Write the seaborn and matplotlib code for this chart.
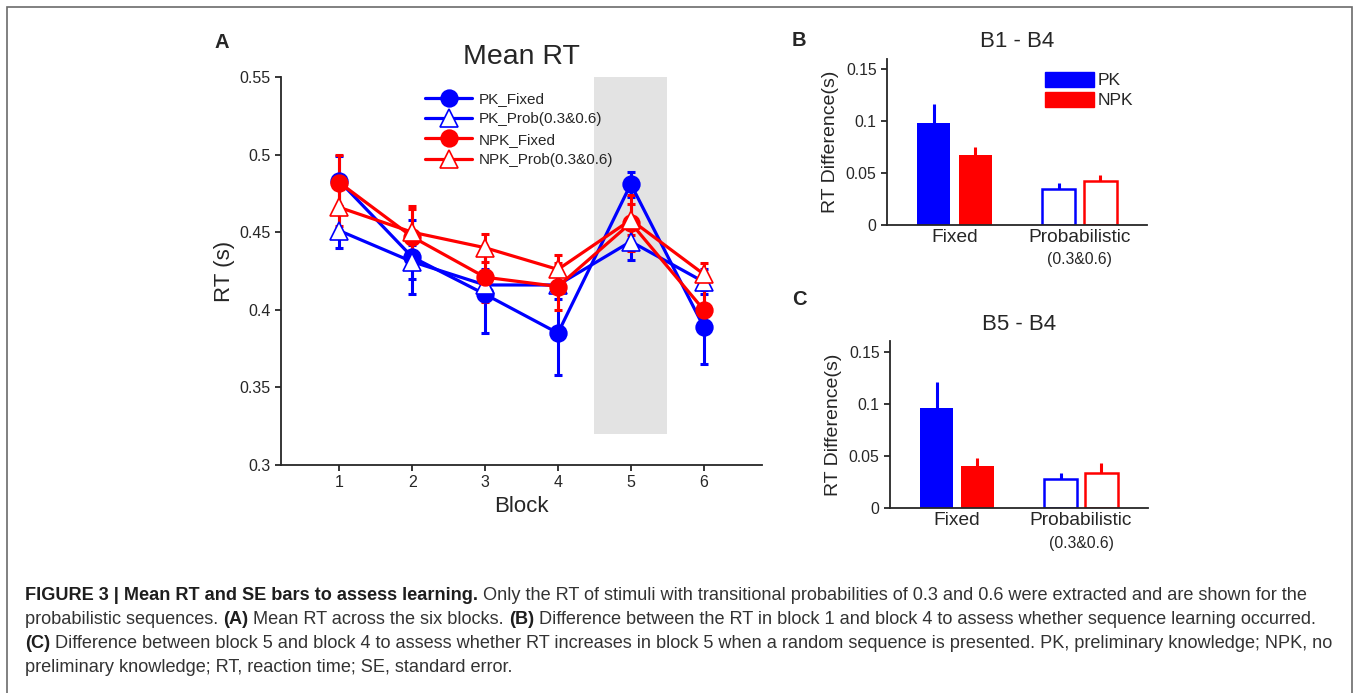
import numpy as np
import pandas as pd
import seaborn as sns
import matplotlib.pyplot as plt
from matplotlib.patches import Patch, Rectangle
from matplotlib.lines import Line2D
import matplotlib.transforms as mtrans

# Panel A: mean RT per block
blocks = [1, 2, 3, 4, 5, 6]
pk_fixed = [0.483, 0.434, 0.410, 0.385, 0.481, 0.389]
pk_fixed_se = [0.016, 0.024, 0.025, 0.027, 0.008, 0.024]
pk_prob = [0.451, 0.431, 0.416, 0.416, 0.444, 0.418]
pk_prob_se = [0.011, 0.011, 0.010, 0.009, 0.012, 0.008]
npk_fixed = [0.482, 0.447, 0.421, 0.415, 0.456, 0.400]
npk_fixed_se = [0.018, 0.018, 0.016, 0.015, 0.018, 0.015]
npk_prob = [0.466, 0.450, 0.440, 0.426, 0.458, 0.423]
npk_prob_se = [0.012, 0.017, 0.009, 0.009, 0.010, 0.007]

# Panels B and C: RT differences
conditions = ["Fixed", "Probabilistic"]
groups = ["PK", "NPK"]
b1_b4 = {"PK": [0.098, 0.035], "NPK": [0.067, 0.042]}
b1_b4_se = {"PK": [0.018, 0.005], "NPK": [0.008, 0.006]}
b5_b4 = {"PK": [0.096, 0.028], "NPK": [0.041, 0.034]}
b5_b4_se = {"PK": [0.025, 0.006], "NPK": [0.007, 0.009]}

BLUE = "#0000ff"
RED = "#ff0000"

sns.set_style("ticks")
plt.rcParams["font.family"] = ["Liberation Sans", "DejaVu Sans"]
plt.rcParams["axes.linewidth"] = 1.3
plt.rcParams["xtick.major.width"] = 1.3
plt.rcParams["ytick.major.width"] = 1.3
plt.rcParams["xtick.major.size"] = 4
plt.rcParams["ytick.major.size"] = 4

W, H = 1356, 693
fig = plt.figure(figsize=(W / 100, H / 100), dpi=100)


def px_axes(left, right, top, bottom):
    return fig.add_axes([left / W, 1 - bottom / H, (right - left) / W, (bottom - top) / H])


# ---------------- Panel A ----------------
axA = px_axes(281, 762, 77, 465)
# grey band marking the random block
axA.add_patch(Rectangle((4.5, 0.32), 1, 0.23, facecolor="#e3e3e3", lw=0, zorder=0))

series = [
    ("PK_Fixed", pk_fixed, pk_fixed_se, BLUE, "o", BLUE),
    ("PK_Prob(0.3&0.6)", pk_prob, pk_prob_se, BLUE, "^", "white"),
    ("NPK_Fixed", npk_fixed, npk_fixed_se, RED, "o", RED),
    ("NPK_Prob(0.3&0.6)", npk_prob, npk_prob_se, RED, "^", "white"),
]
handles = []
for name, vals, se, col, mk, face in series:
    ms = 12 if mk == "o" else 13
    axA.errorbar(blocks, vals, yerr=se, fmt="none", ecolor=col, elinewidth=2.2,
                 capsize=3, capthick=2.2, zorder=2)
    sns.lineplot(x=blocks, y=vals, ax=axA, color=col, linewidth=2.3, marker=mk,
                 markersize=ms, markerfacecolor=face, markeredgecolor=col,
                 markeredgewidth=1.2, zorder=3)
    handles.append(Line2D([], [], color=col, lw=2.3, marker=mk, markersize=ms,
                          markerfacecolor=face, markeredgecolor=col, markeredgewidth=1.2))

axA.set_xlim(0.2, 6.8)
axA.set_ylim(0.3, 0.55)
axA.set_xticks(blocks)
axA.set_yticks([0.3, 0.35, 0.4, 0.45, 0.5, 0.55])
axA.set_yticklabels(["0.3", "0.35", "0.4", "0.45", "0.5", "0.55"])
axA.tick_params(labelsize=11.5)
axA.set_xlabel("Block", fontsize=16, labelpad=4)
axA.set_ylabel("RT (s)", fontsize=16, labelpad=3)
axA.set_title("Mean RT", fontsize=20.5, pad=9)
sns.despine(ax=axA)
axA.legend(handles, [s[0] for s in series], loc="upper left",
           bbox_to_anchor=(425 / W, 1 - 92 / H), bbox_transform=fig.transFigure,
           frameon=False, fontsize=11, handlelength=3.1, handletextpad=0.4,
           labelspacing=0.42, borderpad=0, borderaxespad=0)


# ---------------- Panels B and C ----------------
def bar_panel(ax, means, ses, title):
    df = pd.DataFrame({
        "condition": conditions * 2,
        "group": [g for g in groups for _ in conditions],
        "value": means["PK"] + means["NPK"],
        "se": ses["PK"] + ses["NPK"],
    })
    sns.barplot(data=df, x="condition", y="value", hue="group", order=conditions,
                hue_order=groups, palette={"PK": BLUE, "NPK": RED}, width=0.66,
                gap=0.2, errorbar=None, legend=False, saturation=1, ax=ax)
    for p in ax.patches:
        h = p.get_height()
        row = df.iloc[int(np.argmin(np.abs(df["value"] - h)))]
        col = BLUE if row["group"] == "PK" else RED
        xc = p.get_x() + p.get_width() / 2
        if row["condition"] == "Probabilistic":
            # probabilistic bars are drawn hollow
            p.set_facecolor("white")
            p.set_edgecolor(col)
            p.set_linewidth(1.8)
        else:
            p.set_linewidth(0)
        ax.vlines(xc, h, h + row["se"], color=col, lw=2.2, zorder=1)
    ax.set_xlim(-0.54, 1.54)
    ax.set_ylim(0, 0.16)
    ax.set_yticks([0, 0.05, 0.1, 0.15])
    ax.set_yticklabels(["0", "0.05", "0.1", "0.15"])
    ax.tick_params(axis="y", labelsize=11.3)
    ax.tick_params(axis="x", length=0, labelsize=13.8, pad=3)
    ax.set_xlabel("")
    ax.set_ylabel("RT Difference(s)", fontsize=14, labelpad=5)
    ax.set_title(title, fontsize=16, pad=8)
    ax.text(1, -0.21, "(0.3&0.6)", transform=mtrans.blended_transform_factory(ax.transData, ax.transAxes),
            ha="center", va="center", fontsize=11.3)
    sns.despine(ax=ax)


axB = px_axes(887, 1147, 58.6, 225)
bar_panel(axB, b1_b4, b1_b4_se, "B1 - B4")
axB.legend([Patch(facecolor=BLUE, edgecolor=BLUE), Patch(facecolor=RED, edgecolor=RED)],
           groups, loc="upper left", bbox_to_anchor=(1045 / W, 1 - 71.5 / H),
           bbox_transform=fig.transFigure, frameon=False, fontsize=12.5,
           handlelength=2.8, handleheight=1.0, handletextpad=0.25,
           labelspacing=0.2, borderpad=0, borderaxespad=0)

axC = px_axes(890, 1148, 341.3, 508.3)
bar_panel(axC, b5_b4, b5_b4_se, "B5 - B4")

# panel letters
fig.text(222 / W, 1 - 43 / H, "A", fontsize=14.5, fontweight="bold", ha="center", va="center")
fig.text(799 / W, 1 - 41 / H, "B", fontsize=14.5, fontweight="bold", ha="center", va="center")
fig.text(799 / W, 1 - 299 / H, "C", fontsize=14.5, fontweight="bold", ha="center", va="center")

# frame around the figure
fig.patches.append(Rectangle((7 / W, -0.05), (1352 - 7) / W, 1.05 - 7 / H, transform=fig.transFigure,
                             fill=False, edgecolor="#6b6b6b", lw=1.2))

# caption, mixing bold and regular runs
caption = [
    [("FIGURE 3 | Mean RT and SE bars to assess learning.", True),
     (" Only the RT of stimuli with transitional probabilities of 0.3 and 0.6 were extracted and are shown for the", False)],
    [("probabilistic sequences. ", False), ("(A)", True), (" Mean RT across the six blocks. ", False),
     ("(B)", True), (" Difference between the RT in block 1 and block 4 to assess whether sequence learning occurred.", False)],
    [("(C)", True), (" Difference between block 5 and block 4 to assess whether RT increases in block 5 when a random sequence is presented. PK, preliminary knowledge; NPK, no", False)],
    [("preliminary knowledge; RT, reaction time; SE, standard error.", False)],
]
line_y = [596, 620, 643, 667]
fig.canvas.draw()
renderer = fig.canvas.get_renderer()
for runs, y in zip(caption, line_y):
    x = 25
    for txt, bold in runs:
        t = fig.text(x / W, 1 - y / H, txt, fontsize=13.1, va="center", ha="left",
                     fontweight="bold" if bold else "normal",
                     color="#1e1e1e" if bold else "#333333")
        x += t.get_window_extent(renderer).width

fig.savefig("out.png", dpi=100)
